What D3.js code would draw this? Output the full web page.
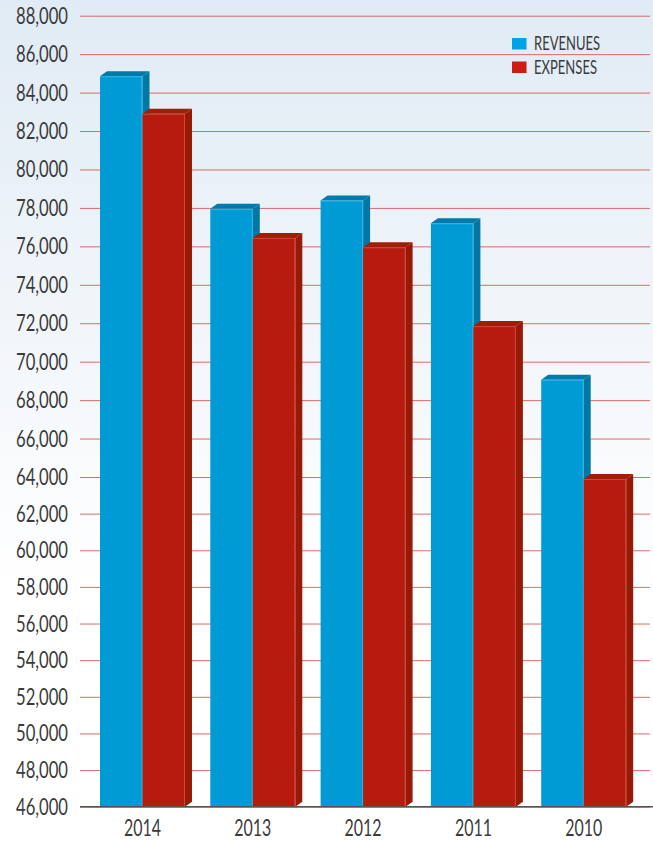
<!DOCTYPE html>
<html lang="en">
  <head>
    <meta charset="UTF-8" />
    <title>Revenues and Expenses</title>
    <style>
      html, body { margin: 0; padding: 0; background: #fff; }
      svg { display: block; }
      text { font-family: Lato, "Open Sans", sans-serif; fill: #3a3a3a; }
    </style>
  </head>
  <body>
    <svg id="chart" width="653" height="842"></svg>
    <script src="https://cdn.jsdelivr.net/npm/d3@7"></script>
    <script>
      // data
      const years = ["2014", "2013", "2012", "2011", "2010"];
      const revenues = [84850, 77950, 78380, 77200, 69060];
      const expenses = [82900, 76440, 75950, 71850, 63890];
      const seriesNames = ["REVENUES", "EXPENSES"];
      const yTicks = d3.range(46000, 88001, 2000);

      const width = 653, height = 842;
      const svg = d3.select("#chart");

      // background fade, light blue at the top to white
      const defs = svg.append("defs");
      const grad = defs.append("linearGradient")
        .attr("id", "bg").attr("x1", 0).attr("y1", 0).attr("x2", 0).attr("y2", 1);
      grad.append("stop").attr("offset", "0%").attr("stop-color", "#e0ebf5");
      grad.append("stop").attr("offset", "40%").attr("stop-color", "#f2f6fa");
      grad.append("stop").attr("offset", "70%").attr("stop-color", "#ffffff");
      svg.append("rect").attr("width", width).attr("height", height).attr("fill", "url(#bg)");

      // the gridlines of the original are a bit tighter below 64,000
      const y = d3.scaleLinear()
        .domain([46000, 64000, 88000])
        .range([806.7, 477, 15.7]);

      const x0 = d3.scaleBand()
        .domain(years)
        .range([87.35, 638.85])
        .paddingInner(0.2294)
        .paddingOuter(0.1147);

      const x1 = d3.scaleBand()
        .domain(seriesNames)
        .range([0, x0.bandwidth()]);

      const colors = {
        REVENUES: { front: "#009bd5", side: "#0077a4", top: "#007aa9", edge: "#35b4e4" },
        EXPENSES: { front: "#b71b0f", side: "#981a05", top: "#9d1f07", edge: "#cc4a3c" }
      };
      const legendColors = { REVENUES: "#00a4e4", EXPENSES: "#cc1c15" };

      // gridlines + tick labels
      const yAxis = d3.axisLeft(y)
        .tickValues(yTicks)
        .tickFormat(d3.format(","))
        .tickSize(-570)
        .tickPadding(12);

      const axisG = svg.append("g")
        .attr("transform", "translate(80,0)")
        .call(yAxis);
      axisG.select(".domain").remove();
      axisG.selectAll(".tick line")
        .attr("stroke", "#d8524c")
        .attr("stroke-opacity", 0.85);
      axisG.selectAll(".tick text")
        .attr("font-size", 23.5)
        .attr("font-family", null)
        .attr("fill", "#3a3a3a")
        .attr("textLength", 52)
        .attr("lengthAdjust", "spacingAndGlyphs");

      // bars with a little 3d depth
      const dx = 7, dy = 5;
      const y0 = y(46000);

      const groups = svg.append("g").attr("class", "bars")
        .selectAll("g")
        .data(years.map((yr, i) => ({ year: yr, values: [revenues[i], expenses[i]] })))
        .join("g")
        .attr("transform", (d) => `translate(${x0(d.year)},0)`);

      groups.each(function (d) {
        const g = d3.select(this);
        seriesNames.forEach((name, j) => {
          const v = d.values[j];
          const bx = x1(name), bw = x1.bandwidth(), by = y(v);
          const c = colors[name];
          g.append("polygon")
            .attr("points", [[bx + bw, by], [bx + bw + dx, by - dy], [bx + bw + dx, y0 - dy], [bx + bw, y0]].join(" "))
            .attr("fill", c.side);
          g.append("polygon")
            .attr("points", [[bx, by], [bx + dx, by - dy], [bx + bw + dx, by - dy], [bx + bw, by]].join(" "))
            .attr("fill", c.top);
          g.append("rect")
            .attr("x", bx).attr("y", by)
            .attr("width", bw).attr("height", y0 - by)
            .attr("fill", c.front);
          g.append("line")
            .attr("x1", bx + bw - 0.5).attr("x2", bx + bw - 0.5)
            .attr("y1", by).attr("y2", y0)
            .attr("stroke", c.edge).attr("stroke-width", 1);
          g.append("line")
            .attr("x1", bx).attr("x2", bx + bw)
            .attr("y1", by + 0.5).attr("y2", by + 0.5)
            .attr("stroke", c.edge).attr("stroke-width", 1);
        });
      });

      // baseline
      svg.append("line")
        .attr("x1", 80).attr("x2", width)
        .attr("y1", y0).attr("y2", y0)
        .attr("stroke", "#555").attr("stroke-width", 1.5);

      // year labels
      svg.append("g").selectAll("text")
        .data(years)
        .join("text")
        .attr("x", (d) => x0(d) + x0.bandwidth() / 2)
        .attr("y", 836)
        .attr("text-anchor", "middle")
        .attr("font-size", 24)
        .attr("textLength", 37)
        .attr("lengthAdjust", "spacingAndGlyphs")
        .text((d) => d);

      // legend
      const legend = svg.append("g").selectAll("g")
        .data(seriesNames)
        .join("g")
        .attr("transform", (d, i) => `translate(512,${38 + i * 23.5})`);
      legend.append("rect")
        .attr("width", 14.5).attr("height", 11.5)
        .attr("fill", (d) => legendColors[d]);
      legend.append("text")
        .attr("x", 22).attr("y", 12)
        .attr("font-size", 18.5)
        .attr("textLength", (d) => (d === "REVENUES" ? 66 : 63))
        .attr("lengthAdjust", "spacingAndGlyphs")
        .text((d) => d);
    </script>
  </body>
</html>
